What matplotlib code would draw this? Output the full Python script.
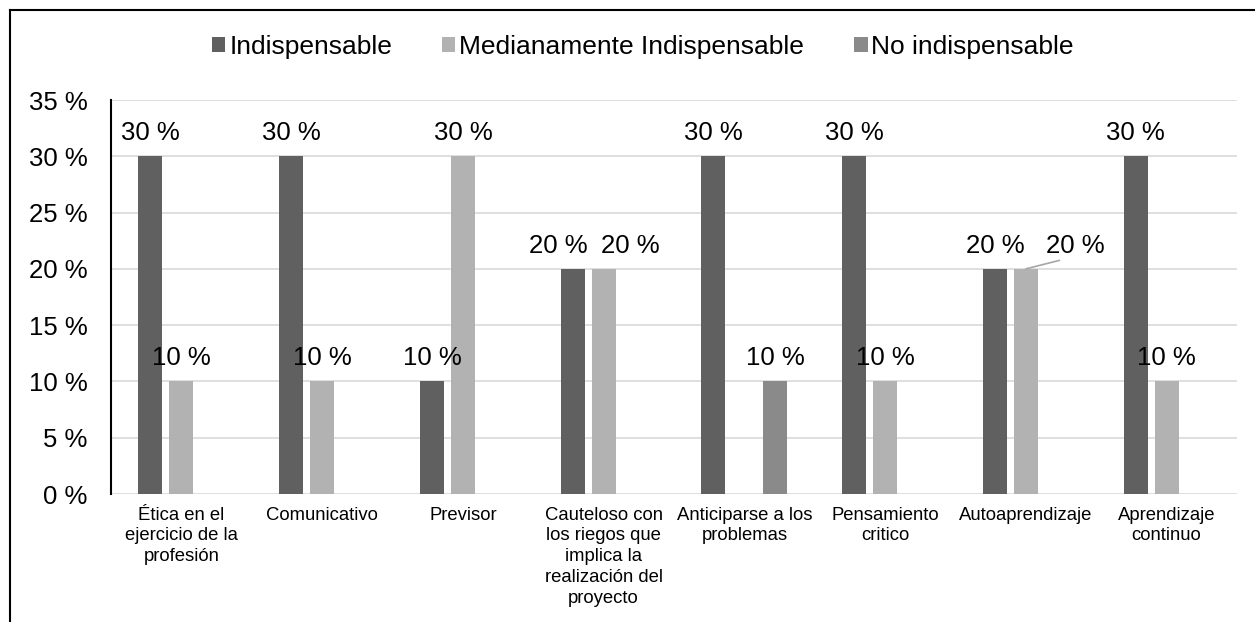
import numpy as np
import matplotlib.pyplot as plt
from matplotlib.lines import Line2D

plt.rcParams['font.family'] = ['Liberation Sans', 'DejaVu Sans']

categories = ["Ética en el\nejercicio de la\nprofesión", "Comunicativo", "Previsor",
              "Cauteloso con\nlos riegos que\nimplica la\nrealización del\nproyecto",
              "Anticiparse a los\nproblemas", "Pensamiento\ncritico",
              "Autoaprendizaje", "Aprendizaje\ncontinuo"]
series_names = ["Indispensable", "Medianamente Indispensable", "No indispensable"]
indispensable = [30, 30, 10, 20, 30, 30, 20, 30]
medianamente = [10, 10, 30, 20, 0, 10, 20, 10]
no_indispensable = [0, 0, 0, 0, 10, 0, 0, 0]
y_ticks = [0, 5, 10, 15, 20, 25, 30, 35]

colors = ['#606060', '#b2b2b2', '#8a8a8a']

W, H = 1255, 622
fig = plt.figure(figsize=(W / 100, H / 100), dpi=100)
ax = fig.add_axes([111 / W, 1 - 494 / H, (1237 - 111) / W, (494 - 100) / H])

x = np.arange(len(categories))
offsets = [-0.22, 0.0, 0.22]
width = 0.17
all_series = [indispensable, medianamente, no_indispensable]

bars = []
for vals, off, col, name in zip(all_series, offsets, colors, series_names):
    b = ax.bar(x + off, vals, width, color=col, label=name, zorder=2)
    bars.append(b)

# label nudges (series, category) -> x shift in data units, so neighbours don't collide
nudge = {(0, 3): -0.1, (1, 3): 0.19}

for si, (vals, off) in enumerate(zip(all_series, offsets)):
    for i, v in enumerate(vals):
        if v == 0:
            continue
        if si == 1 and i == 6:
            # moved out with a leader line, like the original
            ax.annotate(f"{v} %", xy=(x[i] + off, v), xytext=(x[i] + off + 0.35, v + 1.0),
                        textcoords='data', ha='center', va='bottom', fontsize=18.5,
                        arrowprops=dict(arrowstyle='-', color='#a6a6a6', lw=1.2,
                                        shrinkA=0, shrinkB=0, relpos=(0.5, 0.05)))
            continue
        ax.annotate(f"{v} %", xy=(x[i] + off + nudge.get((si, i), 0), v), xytext=(0, 8),
                    textcoords='offset points', ha='center', va='bottom', fontsize=18.5)

ax.set_xlim(-0.5, len(categories) - 0.5)
ax.set_ylim(0, 35)
ax.set_yticks(y_ticks)
ax.set_yticklabels([f"{t} %" for t in y_ticks], fontsize=18.5)
ax.set_xticks(x)
ax.set_xticklabels(categories, fontsize=13.3, linespacing=1.3, va='top')
ax.tick_params(axis='both', length=0)
ax.tick_params(axis='y', pad=17)
ax.tick_params(axis='x', pad=9)

ax.yaxis.grid(True, color='#d9d9d9', lw=1.2, zorder=0)
ax.set_axisbelow(True)
for s in ['top', 'right', 'bottom']:
    ax.spines[s].set_visible(False)
ax.spines['left'].set_color('black')
ax.spines['left'].set_linewidth(1.5)
ax.spines['left'].set_zorder(3)

fig.legend(handles=bars, labels=series_names, loc='center', bbox_to_anchor=(643 / W, 1 - 47 / H),
           ncol=3, frameon=False, fontsize=19, handlelength=0.5, handleheight=0.5,
           handletextpad=0.15, columnspacing=1.9)

# outer frame (top and left edges only visible)
fig.add_artist(Line2D([10 / W, 1], [1 - 10 / H, 1 - 10 / H], color='black', lw=1.5))
fig.add_artist(Line2D([10 / W, 10 / W], [0, 1 - 10 / H], color='black', lw=1.5))

fig.savefig('out.png', dpi=100)
